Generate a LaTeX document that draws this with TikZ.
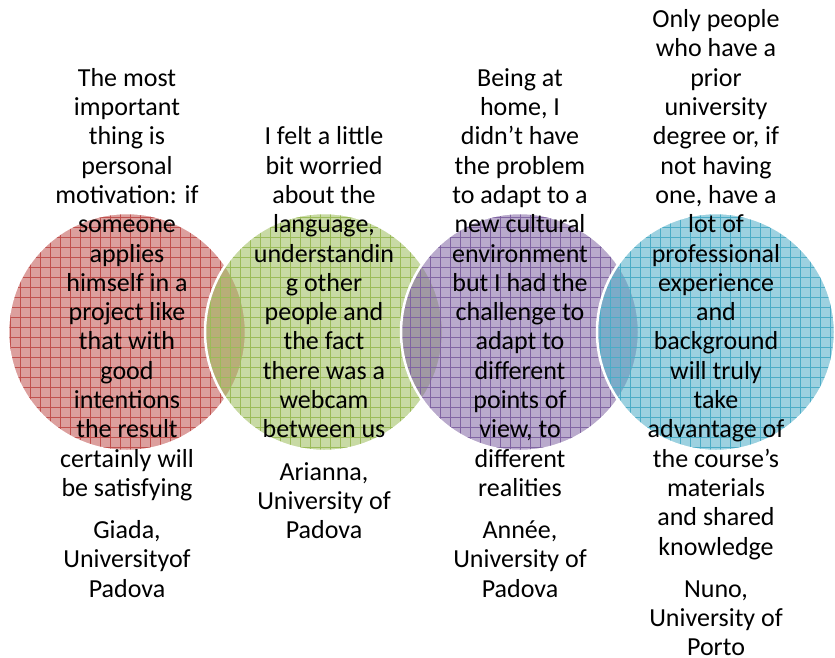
\documentclass[tikz,border=0pt]{standalone}
\usepackage{fontspec}
\setmainfont{Carlito}
\usepackage{tikz}
\usetikzlibrary{positioning, patterns}
\definecolor{vennRed}{RGB}{192,80,77}
\definecolor{vennGreen}{RGB}{155,187,89}
\definecolor{vennPurple}{RGB}{128,100,162}
\definecolor{vennBlue}{RGB}{75,172,198}
\pgfdeclarepatternformonly{venngrid}{\pgfqpoint{-1pt}{-1pt}}{\pgfqpoint{11pt}{11pt}}{\pgfqpoint{10pt}{10pt}}{%
	\pgfsetlinewidth{0.6pt}%
	\pgfpathmoveto{\pgfqpoint{0pt}{-1pt}}\pgfpathlineto{\pgfqpoint{0pt}{11pt}}%
	\pgfpathmoveto{\pgfqpoint{-1pt}{0pt}}\pgfpathlineto{\pgfqpoint{11pt}{0pt}}%
	\pgfusepath{stroke}}
\tikzset{%
	bubble/.style={circle, minimum size=238pt, inner sep=0pt, draw=white, line width=2.5pt,%
		preaction={fill=#1, fill opacity=0.55}, pattern=venngrid, pattern color=#1, fill opacity=0.45},
	quote/.style={align=center, inner sep=0pt, font=\fontsize{26}{29.3}\selectfont},
	author/.style={quote, below=12.5pt of #1}
}
\begin{document}
\begin{tikzpicture}[x=1pt, y=-1pt]
	\useasboundingbox (0,0) rectangle (835,657);
	\node[bubble=vennRed] (c1) at (127,332) {};
	\node[bubble=vennGreen] (c2) at (324,332) {};
	\node[bubble=vennPurple] (c3) at (520,332) {};
	\node[bubble=vennBlue] (c4) at (716,332) {};

	\node[quote] (q1) at (127,285.5) {\strut The most\\ important\\ thing is\\ personal\\ motivation: if\\ someone\\ applies\\ himself in a\\ project like\\ that with\\ good\\ intentions\\ the result\\ certainly will\\ be satisfying\strut};
	\node[quote] (q2) at (324,285.5) {\strut I felt a little\\ bit worried\\ about the\\ language,\\ understandin\\ g other\\ people and\\ the fact\\ there was a\\ webcam\\ between us\strut};
	\node[quote] (q3) at (520,285.5) {\strut Being at\\ home, I\\ didn’t have\\ the problem\\ to adapt to a\\ new cultural\\ environment\\ but I had the\\ challenge to\\ adapt to\\ different\\ points of\\ view, to\\ different\\ realities\strut};
	\node[quote] (q4) at (716,285.5) {\strut Only people\\ who have a\\ prior\\ university\\ degree or, if\\ not having\\ one, have a\\ lot of\\ professional\\ experience\\ and\\ background\\ will truly\\ take\\ advantage of\\ the course’s\\ materials\\ and shared\\ knowledge\strut};

	\node[author=q1] (a1) {\strut Giada,\\ Universityof\\ Padova};
	\node[author=q2] (a2) {\strut Arianna,\\ University of\\ Padova};
	\node[author=q3] (a3) {\strut Année,\\ University of\\ Padova};
	\node[author=q4] (a4) {\strut Nuno,\\ University of\\ Porto};
\end{tikzpicture}
\end{document}
